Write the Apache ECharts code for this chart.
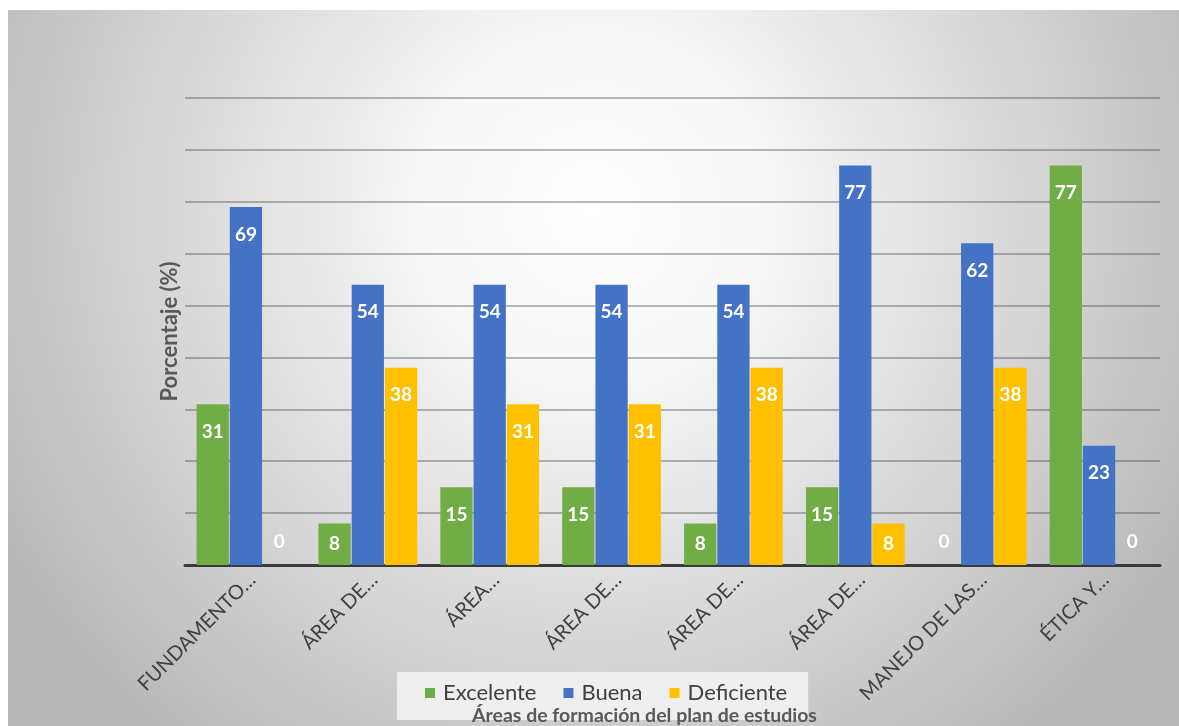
<!DOCTYPE html>
<html>
<head>
<meta charset="utf-8">
<script src="https://cdn.jsdelivr.net/npm/echarts@6/dist/echarts.min.js"></script>
<style>
    html, body { margin: 0; padding: 0; background: #fff; }
    #chart { position: absolute; left: 8px; top: 10px; width: 1171px; height: 716px; }
</style>
</head>
<body>
<div id="chart"></div>
<script>
var categories = ['FUNDAMENTO…', 'ÁREA DE…', 'ÁREA…', 'ÁREA DE…', 'ÁREA DE…', 'ÁREA DE…', 'MANEJO DE LAS…', 'ÉTICA Y…'];
var excelente = [31, 8, 15, 15, 8, 15, 0, 77];
var buena = [69, 54, 54, 54, 54, 77, 62, 23];
var deficiente = [0, 38, 31, 31, 38, 8, 38, 0];

var fontName = 'Lato, "Open Sans", sans-serif';

// valores en 0 van encima del eje, los bajos un poco mas arriba
function toItems(values) {
    return values.map(function (v) {
        var label;
        if (v === 0) {
            label = { position: 'top', distance: 14 };
        } else if (v < 10) {
            label = { position: 'insideTop', distance: 11 };
        } else {
            label = { position: 'insideTop', distance: 18 };
        }
        return { value: v, label: label };
    });
}

function makeSeries(name, values, color) {
    return {
        name: name,
        type: 'bar',
        data: toItems(values),
        barGap: '3%',
        barCategoryGap: '19%',
        itemStyle: { color: color },
        label: {
            show: true,
            color: '#ffffff',
            fontFamily: fontName,
            fontWeight: 'bold',
            fontSize: 19
        }
    };
}

var chart = echarts.init(document.getElementById('chart'));

var option = {
    animation: false,
    backgroundColor: {
        type: 'radial',
        x: 0.5,
        y: 0.28,
        r: 0.95,
        colorStops: [
            { offset: 0, color: '#ffffff' },
            { offset: 0.25, color: '#f7f7f7' },
            { offset: 1, color: '#b8b8b8' }
        ]
    },
    legend: {
        left: 389,
        top: 662,
        padding: [10, 21, 16, 28],
        backgroundColor: 'rgba(245,245,245,0.85)',
        itemWidth: 10,
        itemHeight: 10,
        itemGap: 27,
        icon: 'rect',
        textStyle: { color: '#404040', fontFamily: fontName, fontSize: 22, padding: [0, 0, 0, 3] },
        data: ['Excelente', 'Buena', 'Deficiente']
    },
    grid: {
        left: 177,
        right: 19,
        top: 88,
        bottom: 161
    },
    xAxis: {
        type: 'category',
        data: categories,
        axisLine: { lineStyle: { color: '#3a3a3a', width: 3 } },
        axisTick: { show: false },
        axisLabel: {
            rotate: 45,
            margin: 18,
            padding: [18, -9, 0, 0],
            color: '#404040',
            fontFamily: fontName,
            fontSize: 20,
            interval: 0
        }
    },
    yAxis: {
        type: 'value',
        min: 0,
        max: 90,
        interval: 10,
        name: 'Porcentaje (%)',
        nameLocation: 'middle',
        nameGap: 4,
        nameTextStyle: { color: '#595959', fontFamily: fontName, fontWeight: 'bold', fontSize: 22 },
        axisLabel: { show: false },
        axisLine: { show: false },
        axisTick: { show: false },
        splitLine: { lineStyle: { color: 'rgba(70,70,70,0.38)', width: 2 } }
    },
    graphic: [{
        type: 'text',
        left: 464,
        top: 696,
        z: 100,
        style: {
            text: 'Áreas de formación del plan de estudios',
            fill: '#595959',
            font: 'bold 19.5px ' + fontName
        }
    }],
    series: [
        makeSeries('Excelente', excelente, '#70ad47'),
        makeSeries('Buena', buena, '#4472c4'),
        makeSeries('Deficiente', deficiente, '#ffc000')
    ]
};

chart.setOption(option);
</script>
</body>
</html>
